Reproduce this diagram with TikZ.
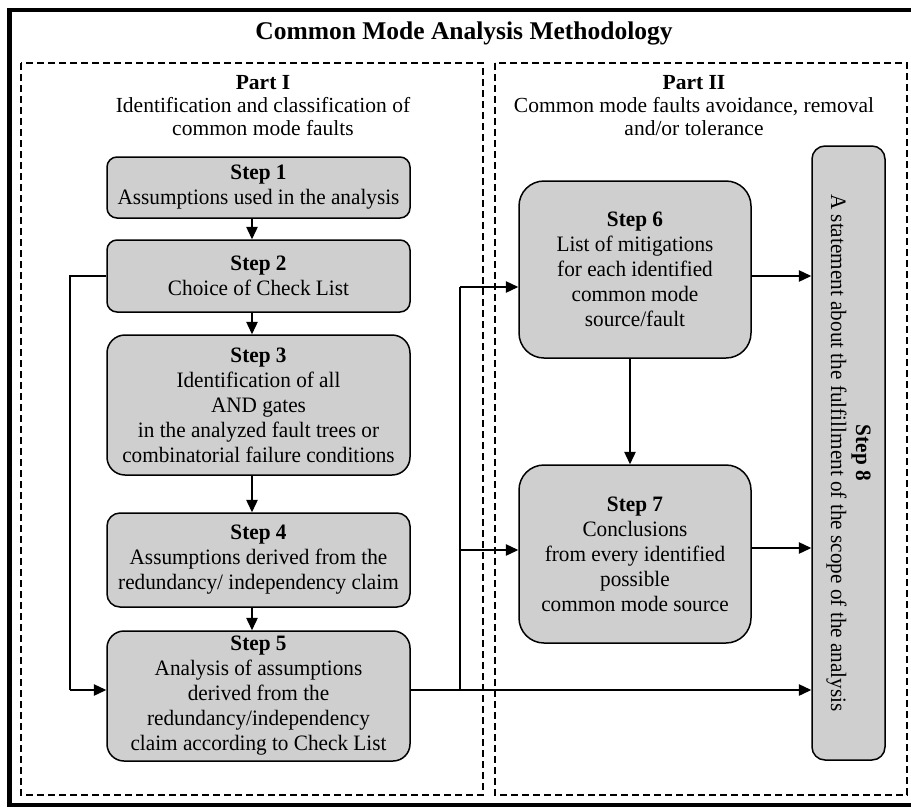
\documentclass[tikz,border=0pt]{standalone}
\usepackage{fontspec}
\setmainfont{Liberation Serif}
\newfontfamily\stepfont[FakeStretch=0.965]{Liberation Serif}
\usetikzlibrary{arrows.meta,calc}
\definecolor{boxfill}{RGB}{207,207,207}
\begin{document}
\begin{tikzpicture}[x=1pt,y=-1pt,
  stepbox/.style={draw=black,line width=1.5pt,fill=boxfill,align=center,inner sep=0pt,
    font=\stepfont\fontsize{22}{25}\selectfont},
  arr/.style={line width=1.3pt,-{Triangle[length=12.5pt,width=11.5pt]}},
  conn/.style={line width=1.3pt},
  partbox/.style={draw=black,line width=1.5pt,dash pattern=on 7pt off 4pt},
  parttext/.style={align=center,font=\fontsize{21.5}{23}\selectfont}]
\useasboundingbox (0,0) rectangle (911,807);
\clip (0,0) rectangle (911,807);
% outer frame (its right side lies outside the picture)
\draw[line width=4.5pt] (915,10) -- (9.5,10) -- (9.5,805) -- (915,805);
% part frames
\draw[partbox] (21,63) rectangle (483,795);
\draw[partbox] (495,63) rectangle (907,795);
% titles
\node[font=\bfseries\fontsize{25.5}{28}\selectfont] (title) at (464,33) {Common Mode Analysis Methodology};
\node[parttext] (p1) at (263,106) {\textbf{Part I}\\Identification and classification of\\common mode faults};
\node[parttext] (p2) at (694,106) {\textbf{Part II}\\Common mode faults avoidance, removal\\and/or tolerance};
% steps
\node[stepbox,rounded corners=10pt,minimum width=303pt,minimum height=61pt] (s1) at (258.5,187.5)
  {\textbf{Step 1}\\Assumptions used in the analysis};
\node[stepbox,rounded corners=10pt,minimum width=303pt,minimum height=72pt] (s2) at (258.5,276)
  {\textbf{Step 2}\\Choice of Check List};
\node[stepbox,rounded corners=18pt,minimum width=303pt,minimum height=140pt] (s3) at (258.5,405)
  {\textbf{Step 3}\\Identification of all\\AND gates\\in the analyzed fault trees or\\combinatorial failure conditions};
\node[stepbox,rounded corners=13pt,minimum width=303pt,minimum height=94pt] (s4) at (258.5,560)
  {\textbf{Step 4}\\Assumptions derived from the\\redundancy/ independency claim};
\node[stepbox,rounded corners=17pt,minimum width=303pt,minimum height=130pt] (s5) at (258.5,696)
  {\textbf{Step 5}\\Analysis of assumptions\\derived from the\\redundancy/independency\\claim according to Check List};
\node[stepbox,rounded corners=25pt,minimum width=232pt,minimum height=177pt] (s6) at (635,269.5)
  {\textbf{Step 6}\\List of mitigations\\for each identified\\common mode\\source/fault};
\node[stepbox,rounded corners=25pt,minimum width=232pt,minimum height=178pt] (s7) at (635,554)
  {\textbf{Step 7}\\Conclusions\\from every identified\\possible\\common mode source};
\node[stepbox,rounded corners=13pt,minimum width=73pt,minimum height=614pt] (s8) at (848.5,453) {};
\node[align=center,inner sep=0pt,rotate=-90,font=\stepfont\fontsize{22}{25}\selectfont] (s8t) at (s8.center)
  {\textbf{Step 8}\\A statement about the fulfillment of the scope of the analysis};
% connectors
\draw[arr] ([xshift=-6.5pt]s1.south) -- ([xshift=-6.5pt]s2.north);
\draw[arr] ([xshift=-6.5pt]s2.south) -- ([xshift=-6.5pt]s3.north);
\draw[arr] ([xshift=-6.5pt]s3.south) -- ([xshift=-6.5pt]s4.north);
\draw[arr] ([xshift=-6.5pt]s4.south) -- ([xshift=-6.5pt]s5.north);
\coordinate (fb) at (70,690);
\draw[conn] (s2.west) -| (fb);
\draw[arr] (fb) -- (fb -| s5.west);
\coordinate (j) at (460,690);
\coordinate (b6) at (460,287);
\coordinate (b7) at (460,550);
\draw[arr] ([yshift=6pt]s5.east) -- ([yshift=6pt]s5.east -| s8.west);
\draw[conn] (j) -- (b6);
\draw[arr] (b6) -- (b6 -| s6.west);
\draw[arr] (b7) -- (b7 -| s7.west);
\draw[arr] ([xshift=-5pt]s6.south) -- ([xshift=-5pt]s7.north);
\draw[arr] ([yshift=-6.5pt]s6.east) -- ([yshift=-6.5pt]s6.east -| s8.west);
\draw[arr] ([yshift=6pt]s7.east) -- ([yshift=6pt]s7.east -| s8.west);
\end{tikzpicture}
\end{document}
